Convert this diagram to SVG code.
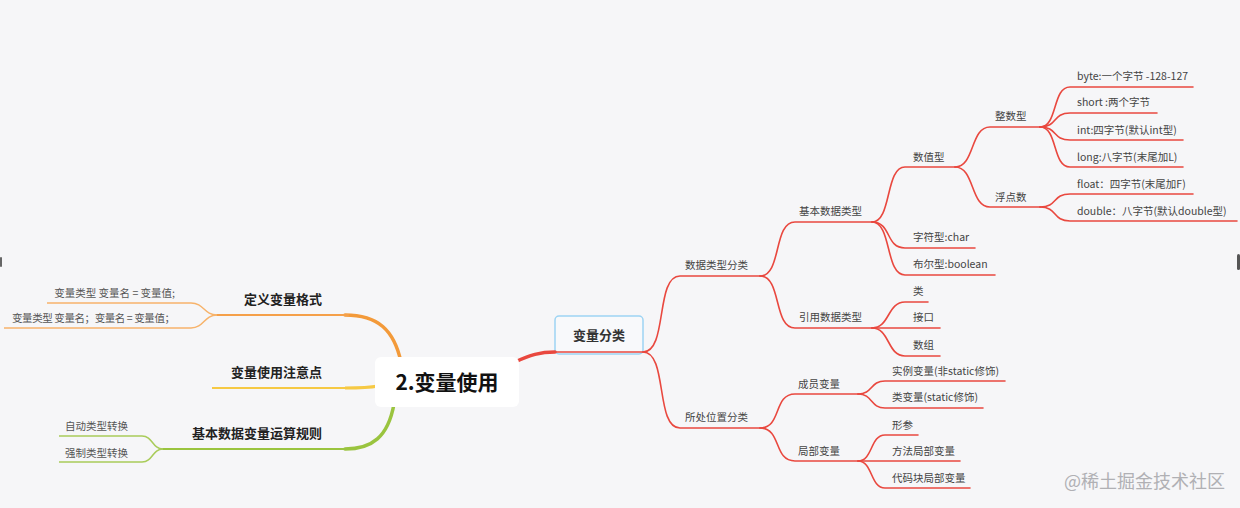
<svg xmlns="http://www.w3.org/2000/svg" width="1240" height="508" viewBox="0 0 1240 508">
<style>
  text { font-family: "Noto Sans CJK SC", "Noto Sans", sans-serif; }
  .t { font-size: 10.5px; fill: #444; }
  .tl { font-size: 10.5px; fill: #555; }
  .lb { font-size: 13px; font-weight: bold; fill: #222; }
  .r { fill: none; stroke: #e9483f; stroke-width: 1.6; stroke-linecap: round; }
  .o { fill: none; stroke: #f5a04a; stroke-width: 2; stroke-linecap: round; }
  .ol { fill: none; stroke: #f7b36b; stroke-width: 1.5; }
  .y { fill: none; stroke: #f6c944; stroke-width: 2; }
  .g { fill: none; stroke: #9ac43f; stroke-width: 2; stroke-linecap: round; }
  .gl { fill: none; stroke: #a9cc5a; stroke-width: 1.5; }
</style>
<rect x="0" y="0" width="1240" height="508" fill="#f6f6f8"/>
<rect x="0" y="257" width="2" height="10" rx="1" fill="#666"/>
<rect x="1237" y="254" width="3" height="16" rx="1.5" fill="#555"/>

<g id="node-fenlei">
  <rect x="555" y="316" width="88" height="38" rx="4" fill="#f8f9fb" stroke="#9dd4f3" stroke-width="1.5"/>
  <text x="599" y="340" text-anchor="middle" style="font-size:13px;font-weight:bold;fill:#333">变量分类</text>
</g>

<g id="connectors">
  <path d="M515,362 C530,355 540,352 555,352" fill="none" stroke="#e9483f" stroke-width="3.5" stroke-linecap="round"/>
  <path class="r" d="M550,352 H643"/>
  <path class="r" d="M643,352 C668,352 655,276 680,276 H760"/>
  <path class="r" d="M643,352 C668,352 655,428 680,428 H760"/>
  <path class="r" d="M760,276 C782,276 773,222 795,222 H872"/>
  <path class="r" d="M760,276 C782,276 773,328 795,328 H872"/>
  <path class="r" d="M760,428 C782,428 773,394 795,394 H858"/>
  <path class="r" d="M760,428 C782,428 773,461 795,461 H858"/>
  <path class="r" d="M872,222 C892,222 885,167 905,167 H955"/>
  <path class="r" d="M872,222 C892,222 885,248 905,248 H975"/>
  <path class="r" d="M872,222 C892,222 885,275 905,275 H995"/>
  <path class="r" d="M872,328 C890,328 887,302 905,302 H928"/>
  <path class="r" d="M872,328 H940"/>
  <path class="r" d="M872,328 C890,328 887,356 905,356 H940"/>
  <path class="r" d="M955,167 C975,167 970,127 990,127 H1040"/>
  <path class="r" d="M955,167 C975,167 970,207 990,207 H1040"/>
  <path class="r" d="M1040,127 C1058,127 1052,87 1070,87 H1193"/>
  <path class="r" d="M1040,127 C1058,127 1052,113 1070,113 H1157"/>
  <path class="r" d="M1040,127 C1058,127 1052,140 1070,140 H1183"/>
  <path class="r" d="M1040,127 C1058,127 1052,167 1070,167 H1183"/>
  <path class="r" d="M1040,207 C1058,207 1052,194 1070,194 H1193"/>
  <path class="r" d="M1040,207 C1058,207 1052,221 1070,221 H1237"/>
  <path class="r" d="M858,394 C873,394 870,381 885,381 H1005"/>
  <path class="r" d="M858,394 C873,394 870,408 885,408 H983"/>
  <path class="r" d="M858,461 C873,461 870,435 885,435 H918"/>
  <path class="r" d="M858,461 H960"/>
  <path class="r" d="M858,461 C873,461 870,488 885,488 H970"/>

  <path d="M401,362 C394,330 378,315 345,315" fill="none" stroke="#f39a3a" stroke-width="3.5" stroke-linecap="round"/>
  <path class="o" d="M348,315 H217"/>
  <path class="ol" d="M217,315 C204,315 204,303 191,303 H47"/>
  <path class="ol" d="M217,315 C204,315 204,328 191,328 H4"/>
  <path d="M378,386 C368,388 360,388 345,388" fill="none" stroke="#f6c944" stroke-width="3"/>
  <path class="y" d="M348,388 H212"/>
  <path d="M394,404 C388,437 372,449 345,449" fill="none" stroke="#9ac43f" stroke-width="3.5" stroke-linecap="round"/>
  <path class="g" d="M348,449 H163"/>
  <path class="gl" d="M163,449 C152,449 153,436 142,436 H59"/>
  <path class="gl" d="M163,449 C152,449 153,462 142,462 H59"/>
</g>

<g id="node-center">
  <rect x="375" y="357" width="144" height="50" rx="6" fill="#ffffff"/>
  <text x="447" y="390" text-anchor="middle" style="font-size:21px;font-weight:bold;fill:#111">2.变量使用</text>
</g>

<g id="node-shujuleixingfenlei"><text class="t" x="685" y="269">数据类型分类</text></g>
<g id="node-suochuweizhi"><text class="t" x="685" y="421">所处位置分类</text></g>
<g id="node-jiben"><text class="t" x="799" y="215">基本数据类型</text></g>
<g id="node-yinyong"><text class="t" x="799" y="321">引用数据类型</text></g>
<g id="node-chengyuan"><text class="t" x="798" y="388">成员变量</text></g>
<g id="node-jubu"><text class="t" x="798" y="455">局部变量</text></g>
<g id="node-shuzhi"><text class="t" x="913" y="161">数值型</text></g>
<g id="node-char"><text class="t" x="913" y="241">字符型:char</text></g>
<g id="node-boolean"><text class="t" x="913" y="268">布尔型:boolean</text></g>
<g id="node-lei"><text class="t" x="913" y="295">类</text></g>
<g id="node-jiekou"><text class="t" x="913" y="321">接口</text></g>
<g id="node-shuzu"><text class="t" x="913" y="349">数组</text></g>
<g id="node-zhengshu"><text class="t" x="995" y="120">整数型</text></g>
<g id="node-fudian"><text class="t" x="995" y="201">浮点数</text></g>
<g id="node-byte"><text class="t" x="1077" y="80">byte:一个字节 -128-127</text></g>
<g id="node-short"><text class="t" x="1077" y="106">short :两个字节</text></g>
<g id="node-int"><text class="t" x="1077" y="134">int:四字节(默认int型)</text></g>
<g id="node-long"><text class="t" x="1077" y="161">long:八字节(末尾加L)</text></g>
<g id="node-float"><text class="t" x="1077" y="188">float：四字节(末尾加F)</text></g>
<g id="node-double"><text class="t" x="1077" y="215">double：八字节(默认double型)</text></g>
<g id="node-shili"><text class="t" x="892" y="375">实例变量(非static修饰)</text></g>
<g id="node-leibianliang"><text class="t" x="892" y="401">类变量(static修饰)</text></g>
<g id="node-xingcan"><text class="t" x="892" y="429">形参</text></g>
<g id="node-fangfa"><text class="t" x="892" y="455">方法局部变量</text></g>
<g id="node-daimakuai"><text class="t" x="892" y="482">代码块局部变量</text></g>

<g id="node-dingyi"><text class="lb" x="322" y="304" text-anchor="end">定义变量格式</text></g>
<g id="node-geshi1"><text class="tl" x="175" y="297" text-anchor="end">变量类型 变量名 = 变量值;</text></g>
<g id="node-geshi2"><text class="tl" x="175" y="322" text-anchor="end" textLength="163">变量类型 变量名；变量名 = 变量值；</text></g>
<g id="node-zhuyi"><text class="lb" x="322" y="377" text-anchor="end">变量使用注意点</text></g>
<g id="node-yunsuan"><text class="lb" x="322" y="438" text-anchor="end">基本数据变量运算规则</text></g>
<g id="node-zidong"><text class="tl" x="128" y="430" text-anchor="end">自动类型转换</text></g>
<g id="node-qiangzhi"><text class="tl" x="128" y="457" text-anchor="end">强制类型转换</text></g>

<text x="1064" y="488" style="font-size:18px;fill:#b0b0b4">@稀土掘金技术社区</text>
</svg>
